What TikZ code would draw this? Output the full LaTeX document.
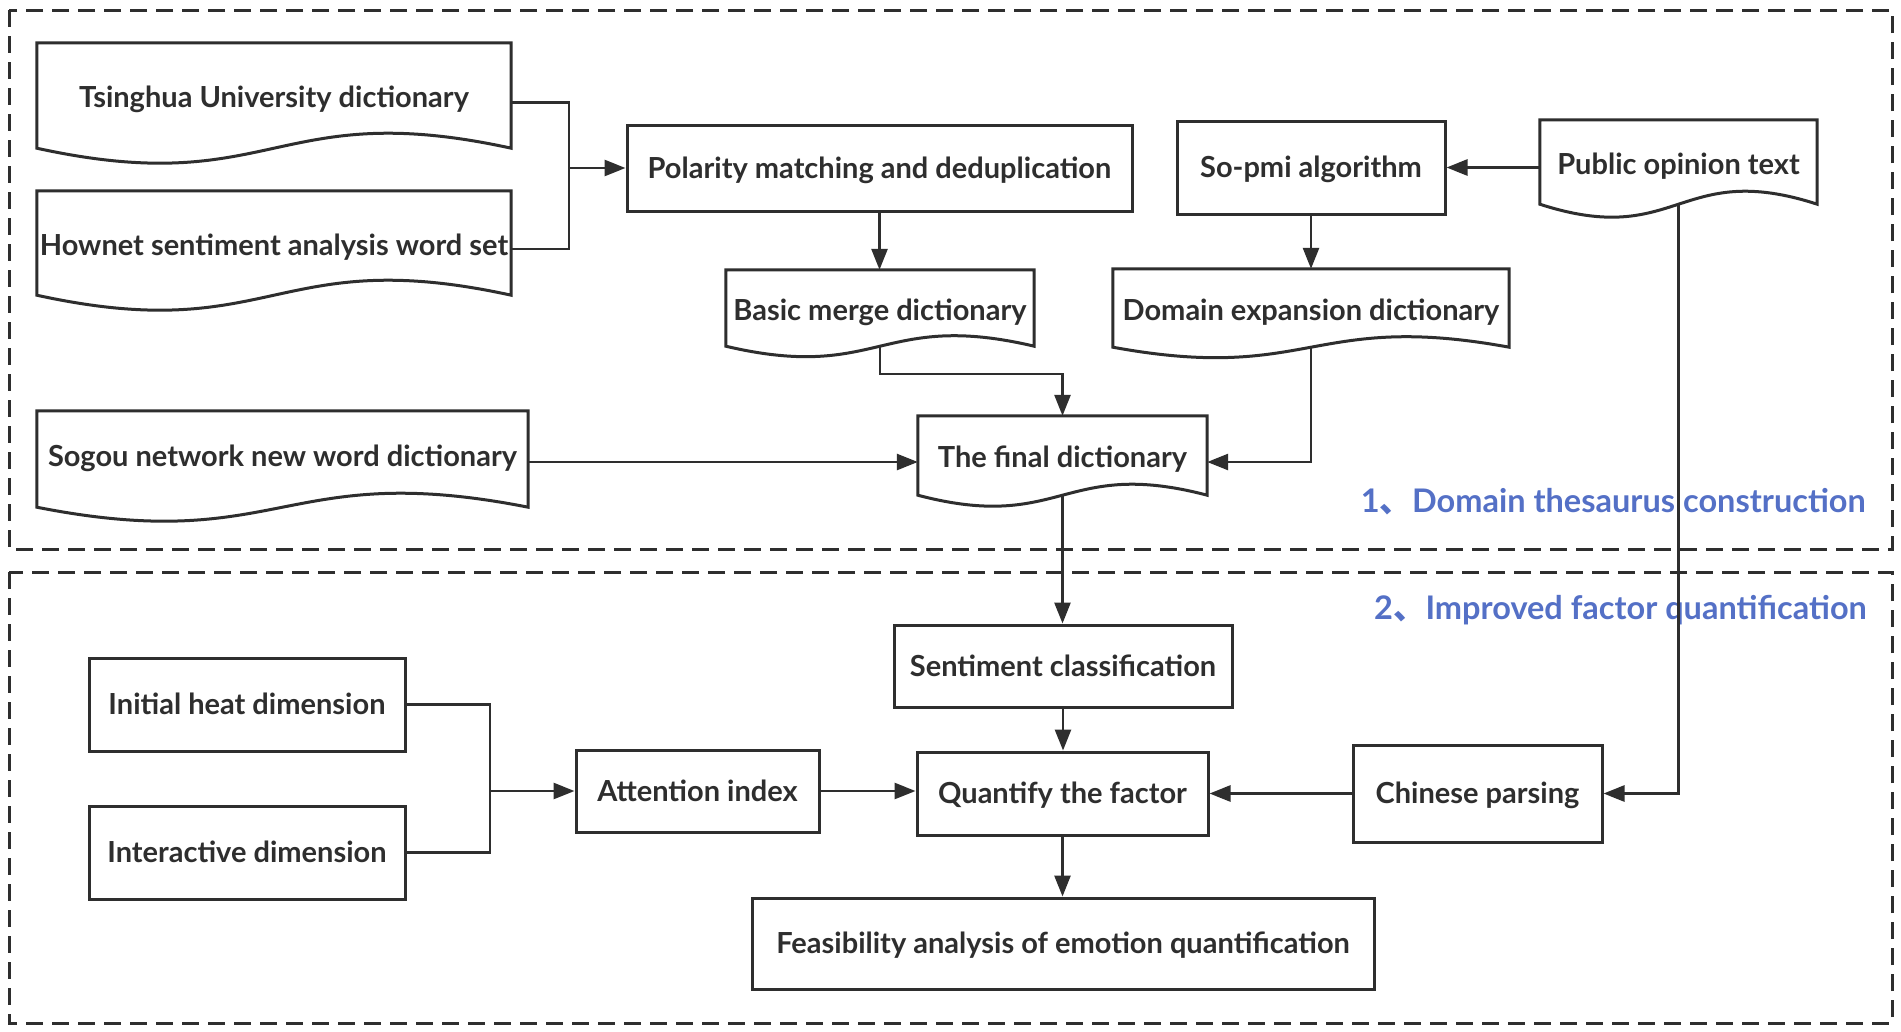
\documentclass[tikz,border=0pt]{standalone}
\usepackage{fontspec}
\setmainfont{Lato}
\newfontfamily\cjk{Noto Sans CJK SC}
\usetikzlibrary{arrows.meta,calc}
\definecolor{ink}{HTML}{2E2E2E}
\definecolor{lblue}{HTML}{5470C6}
\newcommand\docoutline[2]{%
  \draw[boxline] (#1.south east) -- (#1.north east) -- (#1.north west) -- (#1.south west)
    .. controls ($(#1.south)+(0,3.46*#2)$) and ($(#1.south)+(0,-3.46*#2)$) .. (#1.south east) -- cycle;}
\begin{document}
\begin{tikzpicture}[x=1pt,y=-1pt,
  every node/.style={font=\fontsize{29}{34}\selectfont\bfseries, text=ink, inner sep=0pt},
  boxline/.style={draw=ink, line width=3pt, line join=miter},
  proc/.style={boxline, rectangle, text height=22.5pt, text depth=2pt},
  docnode/.style={rectangle, draw=none, text height=25pt, text depth=1pt},
  conn/.style={draw=ink, line width=2.7pt},
  arr/.style={conn, -{Triangle[length=21pt,width=16pt]}},
  frame/.style={draw=ink, line width=3pt, dash pattern=on 17pt off 9pt},
  lab/.style={font=\fontsize{32.5}{38}\selectfont\bfseries, text=lblue, anchor=east}
]
\useasboundingbox (0,0) rectangle (1901,1031);
\fill[white] (0,0) rectangle (1901,1031);

% frames
\draw[frame] (9,10) rectangle (1892,549);
\draw[frame] (9,572) rectangle (1892,1023);

% labels
\node[lab] (lab1) at (1866,502) {1{\cjk 、}Domain thesaurus construction};
\node[lab] (lab2) at (1867,610) {2{\cjk 、}Improved factor quantification};

% document nodes
\node[docnode, minimum width=474pt, minimum height=105pt] (tsing) at (274,95.5) {Tsinghua University dictionary};
\docoutline{tsing}{15}
\node[docnode, minimum width=474pt, minimum height=104pt] (hownet) at (274,243) {Hownet sentiment analysis word set};
\docoutline{hownet}{15}
\node[docnode, minimum width=491pt, minimum height=96pt, text height=16pt] (sogou) at (282.5,459) {Sogou network new word dictionary};
\docoutline{sogou}{14}
\node[docnode, minimum width=308pt, minimum height=76pt] (basic) at (880,308) {Basic merge dictionary};
\docoutline{basic}{10.5}
\node[docnode, minimum width=396pt, minimum height=78pt] (domain) at (1311,308) {Domain expansion dictionary};
\docoutline{domain}{10.5}
\node[docnode, minimum width=277pt, minimum height=84pt] (public) at (1678.5,162) {Public opinion text};
\docoutline{public}{13}
\node[docnode, minimum width=289pt, minimum height=79pt] (final) at (1062.5,455.5) {The final dictionary};
\docoutline{final}{11}

% process nodes
\node[proc, minimum width=505pt, minimum height=86pt] (polar) at (879.5,168) {Polarity matching and deduplication};
\node[proc, minimum width=268pt, minimum height=93pt] (sopmi) at (1311,167.5) {So-pmi algorithm};
\node[proc, minimum width=338pt, minimum height=82pt] (senti) at (1063,666) {Sentiment classification};
\node[proc, minimum width=291pt, minimum height=83pt] (quant) at (1062.5,793.5) {Quantify the factor};
\node[proc, minimum width=243pt, minimum height=82pt] (attn) at (697.5,791) {Attention index};
\node[proc, minimum width=316pt, minimum height=93pt] (initial) at (247,704.5) {Initial heat dimension};
\node[proc, minimum width=316pt, minimum height=93pt] (inter) at (247,852.5) {Interactive dimension};
\node[proc, minimum width=249pt, minimum height=97pt] (chinese) at (1477.5,793.5) {Chinese parsing};
\node[proc, minimum width=622pt, minimum height=91pt] (feas) at (1063,943.5) {Feasibility analysis of emotion quantification};

% junctions
\coordinate (j1) at (569,168);
\coordinate (j2) at (1062.5,374);
\coordinate (j3) at (490,791);
\coordinate (fy) at (0,462);

% connectors
\draw[conn] ([yshift=-7pt]tsing.east) -| (j1) |- ([yshift=-6pt]hownet.east);
\draw[arr] (j1) -- (polar.west);
\draw[arr] (polar.south) -- (polar.south |- basic.north);
\draw[arr] (basic.south) |- (j2) -- (final.north);
\draw[arr] (public.west |- sopmi.east) -- (sopmi.east);
\draw[arr] (sopmi.south) -- (domain.north);
\draw[arr] (domain.south) |- (final.east |- fy);
\draw[arr] (sogou.east |- fy) -- (final.west |- fy);
\draw[arr] (final.south) -- (final.south |- senti.north);
\draw[arr] (senti.south) -- (senti.south |- quant.north);
\draw[arr] (public.south) |- (chinese.east);
\draw[arr] (chinese.west) -- (quant.east |- chinese.west);
\draw[conn] (initial.east) -| (j3) |- (inter.east);
\draw[arr] (j3) -- (attn.west);
\draw[arr] (attn.east) -- (quant.west |- attn.east);
\draw[arr] (quant.south) -- (quant.south |- feas.north);
\end{tikzpicture}
\end{document}
